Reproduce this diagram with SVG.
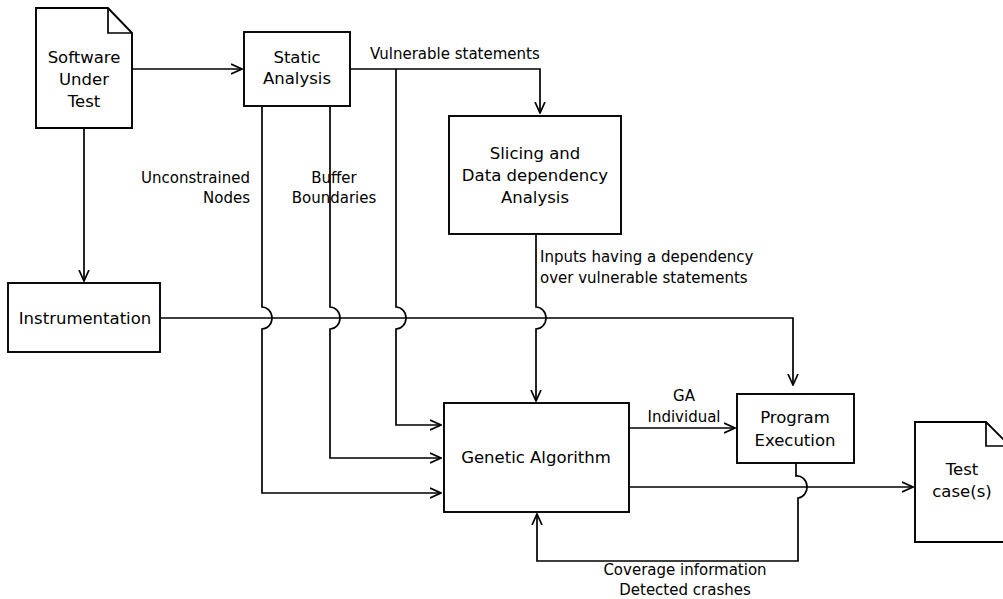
<svg xmlns="http://www.w3.org/2000/svg" width="1003" height="599" viewBox="0 0 1003 599">
<defs>
<marker id="arr" viewBox="0 0 12 12" refX="11" refY="6" markerWidth="12" markerHeight="12" markerUnits="userSpaceOnUse" orient="auto">
<path d="M0,1 L11,6 L0,11" fill="none" stroke="#000" stroke-width="1.7"/>
</marker>
<style>
.box{fill:#fff;stroke:#000;stroke-width:1.9}
.ln{fill:none;stroke:#000;stroke-width:1.7}
.nt{font-family:"DejaVu Sans",sans-serif;font-size:16.5px;fill:#000;text-anchor:middle}
.et{font-family:"DejaVu Sans",sans-serif;font-size:15px;fill:#000}
</style>
</defs>
<rect width="1003" height="599" fill="#fff"/>
<g id="connectors">
<path class="ln" d="M132,69 L242,69" marker-end="url(#arr)"/>
<path class="ln" d="M84,128 L84,281" marker-end="url(#arr)"/>
<path class="ln" d="M350,69 L540,69 L540,113" marker-end="url(#arr)"/>
<path class="ln" d="M262,106 L262,307 A10,11 0 0 1 262,329 L262,493 L441,493" marker-end="url(#arr)"/>
<path class="ln" d="M330,106 L330,307 A10,11 0 0 1 330,329 L330,458 L441,458" marker-end="url(#arr)"/>
<path class="ln" d="M396,69 L396,307 A10,11 0 0 1 396,329 L396,425 L441,425" marker-end="url(#arr)"/>
<path class="ln" d="M536,234 L536,307 A10,11 0 0 1 536,329 L536,401" marker-end="url(#arr)"/>
<path class="ln" d="M161,318 L793,318 L793,385" marker-end="url(#arr)"/>
<path class="ln" d="M629,428 L735,428" marker-end="url(#arr)"/>
<path class="ln" d="M629,487 L913,487" marker-end="url(#arr)"/>
<path class="ln" d="M796,463 L796,476 A10,11 0 0 1 798,498 L798,561 L537,561 L537,514" marker-end="url(#arr)"/>
<text class="et" x="370" y="59">Vulnerable statements</text>
<text class="et" x="250" y="183" text-anchor="end">Unconstrained</text>
<text class="et" x="250" y="203" text-anchor="end">Nodes</text>
<text class="et" x="334" y="183" text-anchor="middle">Buffer</text>
<text class="et" x="334" y="203" text-anchor="middle">Boundaries</text>
<text class="et" x="540" y="262">Inputs having a dependency</text>
<text class="et" x="540" y="283">over vulnerable statements</text>
<text class="et" x="684" y="401" text-anchor="middle">GA</text>
<text class="et" x="684" y="422" text-anchor="middle">Individual</text>
<text class="et" x="685" y="575" text-anchor="middle">Coverage information</text>
<text class="et" x="685" y="595" text-anchor="middle">Detected crashes</text>
</g>
<g id="sut">
<path class="box" d="M36,8 L108,8 L132,33 L132,128 L36,128 Z"/>
<path class="ln" d="M108,8 L108,33 L132,33"/>
<text class="nt" x="84" y="63">Software</text>
<text class="nt" x="84" y="85">Under</text>
<text class="nt" x="84" y="107">Test</text>
</g>
<g id="static">
<rect class="box" x="244" y="32" width="106" height="74"/>
<text class="nt" x="297" y="63">Static</text>
<text class="nt" x="297" y="84">Analysis</text>
</g>
<g id="slicing">
<rect class="box" x="449" y="116" width="172" height="118"/>
<text class="nt" x="535" y="159">Slicing and</text>
<text class="nt" x="535" y="181">Data dependency</text>
<text class="nt" x="535" y="203">Analysis</text>
</g>
<g id="instr">
<rect class="box" x="8" y="283" width="152" height="69"/>
<text class="nt" x="85" y="324">Instrumentation</text>
</g>
<g id="ga">
<rect class="box" x="444" y="403" width="185" height="109"/>
<text class="nt" x="536" y="463">Genetic Algorithm</text>
</g>
<g id="pe">
<rect class="box" x="737" y="394" width="117" height="69"/>
<text class="nt" x="795" y="423">Program</text>
<text class="nt" x="795" y="446">Execution</text>
</g>
<g id="tc">
<path class="box" d="M915,422 L986,422 L1010,446 L1010,542 L915,542 Z"/>
<path class="ln" d="M986,422 L986,446 L1010,446"/>
<text class="nt" x="962" y="475">Test</text>
<text class="nt" x="962" y="497">case(s)</text>
</g>
</svg>
